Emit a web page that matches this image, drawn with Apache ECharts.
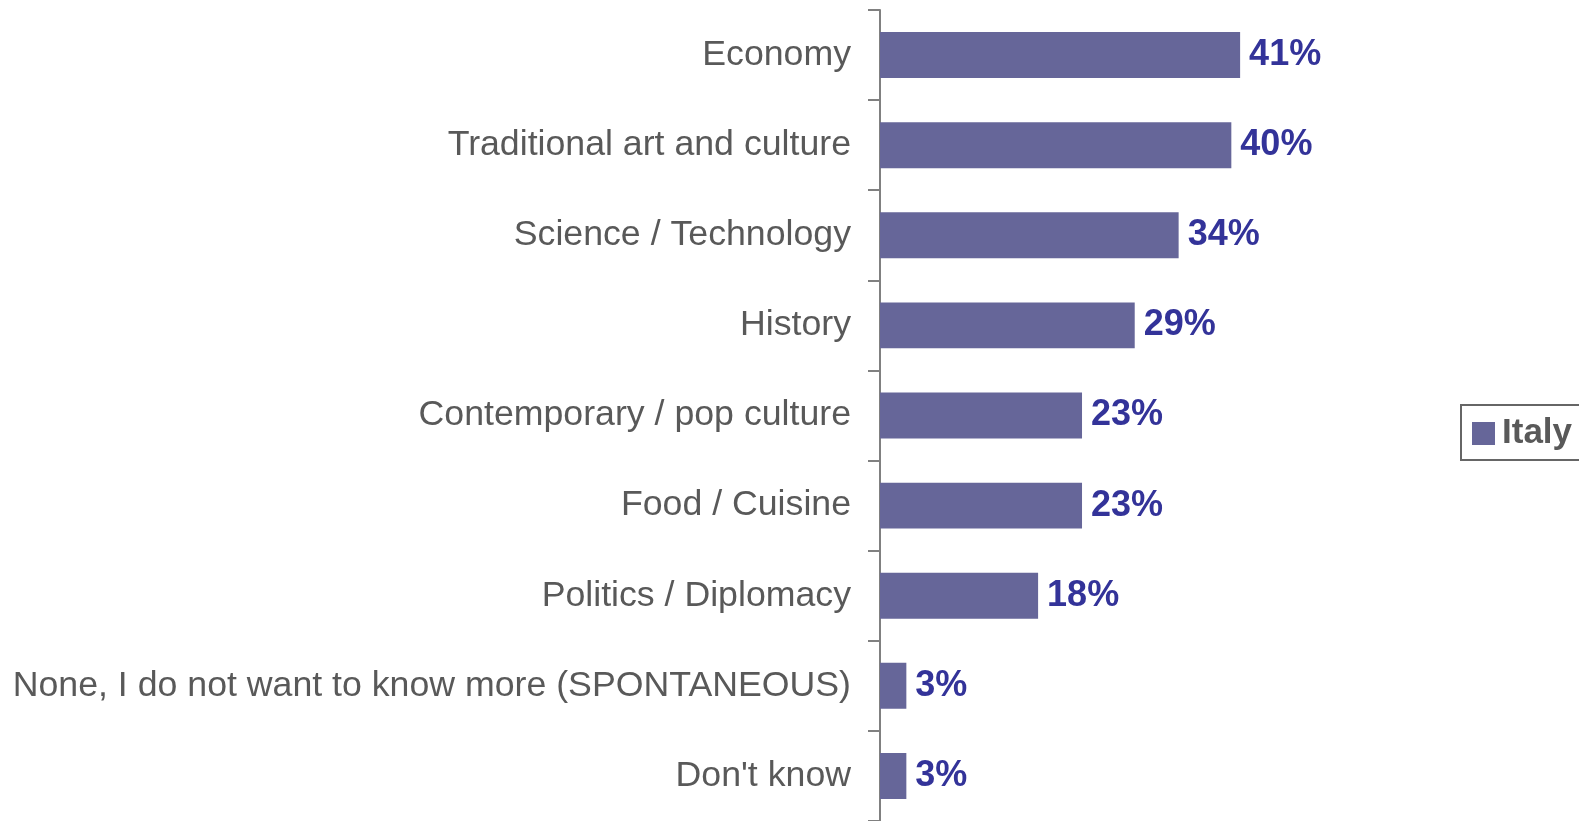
<!DOCTYPE html>
<html><head><meta charset="utf-8">
<script src="https://cdn.jsdelivr.net/npm/echarts@6/dist/echarts.min.js"></script>
<style>html,body{margin:0;padding:0;background:#fff;}#c{width:1579px;height:821px;}</style>
</head><body><div id="c"></div>
<script>
const categories = ["Economy","Traditional art and culture","Science / Technology","History","Contemporary / pop culture","Food / Cuisine","Politics / Diplomacy","None, I do not want to know more (SPONTANEOUS)","Don't know"];
const seriesName = "Italy";
const values = [41,40,34,29,23,23,18,3,3];

const chart = echarts.init(document.getElementById('c'), null, {renderer:'canvas'});
chart.setOption({
  animation:false,
  backgroundColor:'#fff',
  grid:{left:880, top:10, bottom:-4, width:527, containLabel:false},
  xAxis:{type:'value', min:0, max:60, show:false},
  yAxis:{type:'category', inverse:true, data:categories,
    axisLine:{show:true, lineStyle:{color:'#808080', width:2}},
    axisTick:{show:true, length:12, lineStyle:{color:'#808080', width:2}},
    axisLabel:{color:'#595959', fontSize:35.7, fontFamily:'Liberation Sans, Arial, sans-serif', margin:29, padding:[6,0,0,0]},
    splitLine:{show:false}},
  legend:{show:true, data:[seriesName], left:1461, top:405, orient:'vertical',
    padding:[11,30,9,11], itemWidth:23, itemHeight:23, itemGap:0,
    borderColor:'#666', borderWidth:2, icon:'rect',
    textStyle:{color:'#595959', fontSize:35, fontWeight:'bold', fontFamily:'Liberation Sans, Arial, sans-serif', padding:[0,0,0,2]}},
  series:[{name:seriesName, type:'bar', data:values, barWidth:'51%',
    itemStyle:{color:'#666699'},
    label:{show:true, position:'right', distance:9, formatter:'{c}%', color:'#333399', fontSize:36, fontWeight:'bold', fontFamily:'Liberation Sans, Arial, sans-serif', padding:[6,0,0,0]}}]
});
</script></body></html>
